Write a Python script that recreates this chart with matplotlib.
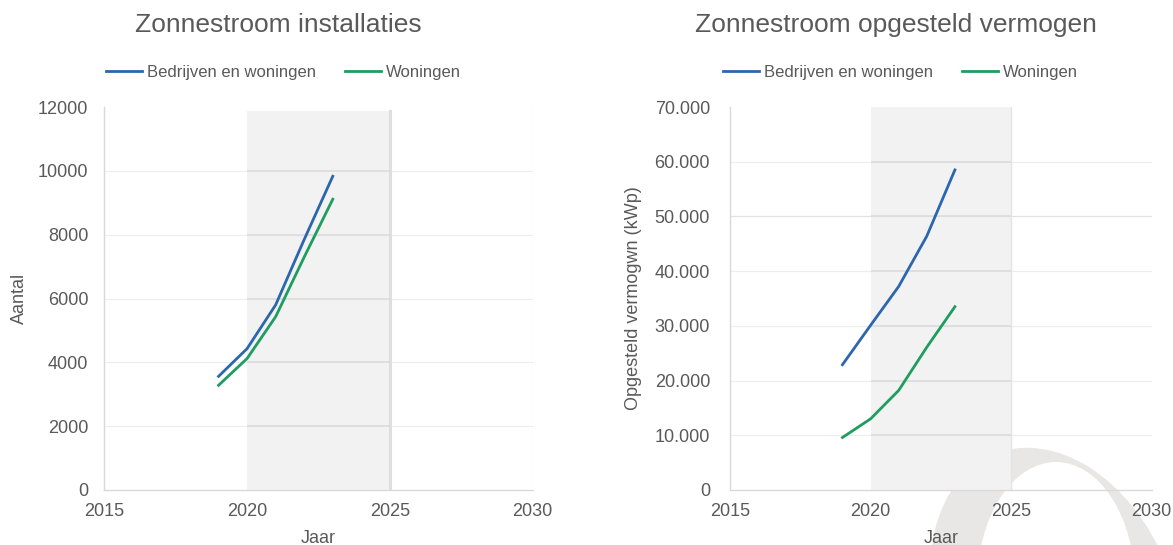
import matplotlib
matplotlib.use("Agg")
import matplotlib.pyplot as plt
from matplotlib.patches import Ellipse
from matplotlib.ticker import FuncFormatter

plt.rcParams['font.family'] = ['Liberation Sans', 'DejaVu Sans']

# --- data -------------------------------------------------------------
years = [2019, 2020, 2021, 2022, 2023]

installaties_totaal = [3560, 4430, 5800, 7850, 9830]      # Bedrijven en woningen
installaties_woningen = [3280, 4120, 5430, 7300, 9110]    # Woningen

vermogen_totaal = [22900, 30100, 37200, 46400, 58500]     # kWp, bedrijven en woningen
vermogen_woningen = [9600, 13000, 18200, 26100, 33500]    # kWp, woningen

series_labels = ["Bedrijven en woningen", "Woningen"]
x_ticks = [2015, 2020, 2025, 2030]
y_ticks_aantal = [0, 2000, 4000, 6000, 8000, 10000, 12000]
y_ticks_vermogen = [0, 10000, 20000, 30000, 40000, 50000, 60000, 70000]
band_years = (2020, 2025)

# --- style ------------------------------------------------------------
BLUE = "#2c66ad"
GREEN = "#1f9d60"
TEXT = "#595959"
BAND = "#f2f2f2"
GRID_LIGHT = "#ececec"
GRID_BAND = "#dcdcdc"
AXIS = "#d9d9d9"
LOGO = "#e8e7e6"

W, H = 1173, 545
fig = plt.figure(figsize=(W / 100, H / 100), dpi=100)
fig.patch.set_facecolor("white")

# Background logo ring behind the charts
bg = fig.add_axes([0, 0, 1, 1], zorder=-5)
bg.set_xlim(0, W)
bg.set_ylim(0, H)
bg.axis("off")
bg.add_patch(Ellipse((1056, -62), 236, 330, angle=22, facecolor=LOGO, edgecolor="none"))
bg.add_patch(Ellipse((1056, -40), 158, 246, angle=0, facecolor="white", edgecolor="none"))


def px_rect(x0, x1, y_top, y_bot):
    return [x0 / W, (H - y_bot) / H, (x1 - x0) / W, (y_bot - y_top) / H]


def style_axes(ax, yticks, ylim, fmt, ypad, band_top=1.0, light_levels=None):
    ax.set_facecolor("none")
    ax.set_xlim(x_ticks[0], x_ticks[-1])
    ax.set_ylim(*ylim)
    ax.set_xticks(x_ticks)
    ax.set_yticks(yticks)
    ax.yaxis.set_major_formatter(FuncFormatter(fmt))
    ax.tick_params(axis="both", length=0, labelsize=13, labelcolor=TEXT)
    ax.tick_params(axis="x", pad=9)
    ax.tick_params(axis="y", pad=ypad)
    for side in ("top", "right"):
        ax.spines[side].set_visible(False)
    for side in ("left", "bottom"):
        ax.spines[side].set_color(AXIS)
        ax.spines[side].set_linewidth(1.0)
    # shaded period
    ax.axvspan(band_years[0], band_years[1], ymin=0, ymax=band_top,
               facecolor=BAND, edgecolor="none", zorder=0)
    levels = light_levels if light_levels is not None else yticks[1:-1]
    for y in levels:
        ax.axhline(y, color=GRID_LIGHT, linewidth=0.8, zorder=0.5)
    for y in yticks[1:-1]:
        ax.hlines(y, band_years[0], band_years[1], color=GRID_BAND,
                  linewidth=1.2, zorder=0.6)


# --- left chart: number of installations -------------------------------
ax1 = fig.add_axes(px_rect(104.3, 532.7, 107, 490))
style_axes(ax1, y_ticks_aantal, (0, 12000), lambda v, p: f"{int(v)}", 11.5,
           band_top=0.99)
ax1.axvline(band_years[1], ymax=0.99, color="#dedede", linewidth=2.2, zorder=0.7)
ax1.axvline(x_ticks[-1], color=GRID_LIGHT, linewidth=0.8, zorder=0.5)
ax1.plot(years, installaties_totaal, color=BLUE, linewidth=2.0, label=series_labels[0], zorder=3)
ax1.plot(years, installaties_woningen, color=GREEN, linewidth=2.0, label=series_labels[1], zorder=3)
ax1.set_ylabel("Aantal", fontsize=13, color=TEXT)
ax1.yaxis.set_label_coords(-0.178, 0.5)
ax1.set_xlabel("Jaar", fontsize=13, color=TEXT)
ax1.xaxis.set_label_coords(0.5, -0.104)


def thousands_dot(v, p):
    return f"{int(v):,}".replace(",", ".")


# --- right chart: installed capacity ----------------------------------
ax2 = fig.add_axes(px_rect(730, 1151.7, 107, 490))
style_axes(ax2, y_ticks_vermogen, (0, 70000), thousands_dot, 14.4,
           light_levels=[10000, 20000, 30000, 40000, 60000])
ax2.axhline(50000, color="#e2e2e2", linewidth=0.9, zorder=0.5)
ax2.axvline(band_years[1], color="#e4e4e4", linewidth=1.0, zorder=0.7)
ax2.plot(years, vermogen_totaal, color=BLUE, linewidth=2.0, label=series_labels[0], zorder=3)
ax2.plot(years, vermogen_woningen, color=GREEN, linewidth=2.0, label=series_labels[1], zorder=3)
ax2.set_ylabel("Opgesteld vermogwn (kWp)", fontsize=13, color=TEXT)
ax2.yaxis.set_label_coords(-0.2075, 0.5)
ax2.set_xlabel("Jaar", fontsize=13, color=TEXT)
ax2.xaxis.set_label_coords(0.5, -0.104)

# --- titles and legends ------------------------------------------------
fig.text(278.5 / W, 1 - 25 / H, "Zonnestroom installaties", fontsize=19,
         color=TEXT, ha="center", va="center")
fig.text(896 / W, 1 - 25 / H, "Zonnestroom opgesteld vermogen", fontsize=19,
         color=TEXT, ha="center", va="center")

for ax, cx in ((ax1, 283.4), (ax2, 900.5)):
    leg = ax.legend(loc="center", bbox_to_anchor=(cx / W, 1 - 72 / H),
                    bbox_transform=fig.transFigure, ncol=2, frameon=False,
                    fontsize=12, handlelength=2.2, handletextpad=0.3,
                    columnspacing=1.7, borderaxespad=0, borderpad=0)
    for t in leg.get_texts():
        t.set_color(TEXT)

fig.savefig("out.png", dpi=100, facecolor="white")
